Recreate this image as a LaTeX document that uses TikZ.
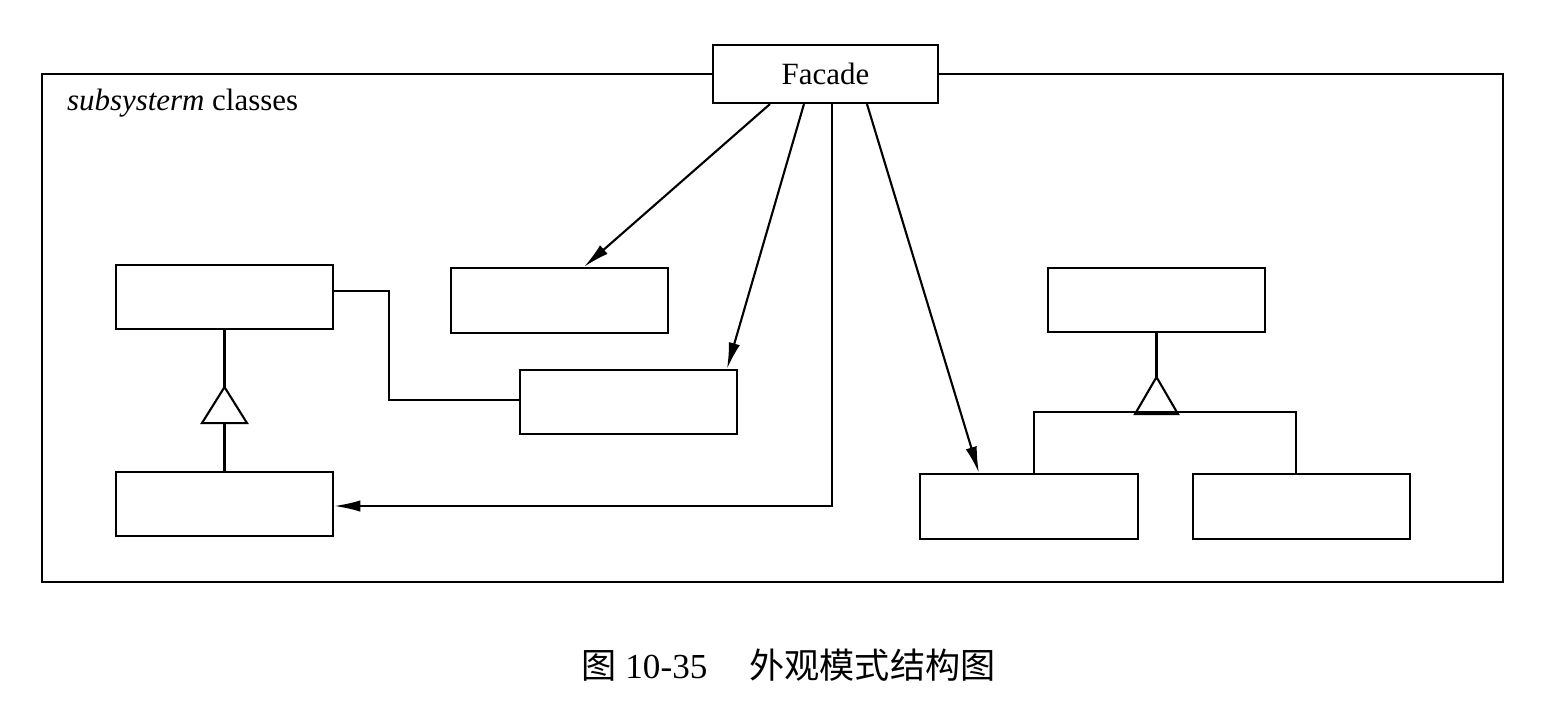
\documentclass[tikz,border=0pt]{standalone}
\usepackage{fontspec}
\setmainfont{Liberation Serif}
\newfontfamily\cjk{Noto Sans CJK SC}
\usetikzlibrary{arrows.meta,calc}
\begin{document}
\begin{tikzpicture}[x=0.02cm,y=-0.02cm,
  line width=1.2pt,
  cls/.style={draw,fill=white,minimum width=4.34cm,minimum height=1.28cm,inner sep=0pt},
  arr/.style={-{Latex[length=15pt,width=6.5pt]}},
  font=\fontsize{17.6}{20}\selectfont]
\useasboundingbox (0,0) rectangle (1568,711);
% frame
\draw (42,74) rectangle (1503,582);
\node[anchor=base west,inner sep=0pt] (lbl) at (66,110) {\textit{subsysterm} classes};
% facade
\node[draw,fill=white,minimum width=4.5cm,minimum height=1.16cm,inner sep=0pt] (fac) at (825.5,74) {Facade};
% classes
\node[cls] (A) at (224.5,297) {};
\node[cls,minimum height=1.3cm] (B) at (559.5,300.5) {};
\node[cls] (C) at (628.5,402) {};
\node[cls] (D) at (224.5,504) {};
\node[cls] (E) at (1156.5,300) {};
\node[cls,minimum width=4.36cm,minimum height=1.3cm] (F) at (1029,506.5) {};
\node[cls,minimum height=1.3cm] (G) at (1301.5,506.5) {};
% facade associations
\draw[arr] ($(fac.south west)+(58,0)$) -- ($(B.north west)+(134,0)$);
\draw[arr] ($(fac.south west)+(92,0)$) -- ($(C.north west)+(208,0)$);
\draw[arr] ($(fac.south west)+(120,0)$) |- ($(D.east)+(0,2)$);
\draw[arr] ($(fac.south west)+(155,0)$) -- ($(F.north west)+(60,0)$);
% A -- C
\draw ($(A.east)+(0,-6)$) -- ++(55,0) |- ($(C.west)+(0,-2)$);
% left inheritance
\draw (A.south) -- ++(0,57) coordinate (t1);
\draw (t1) -- ++(-22.5,36) -- ++(45,0) -- cycle;
\draw ($(t1)+(0,36)$) -- (D.north);
% right inheritance
\draw (E.south) -- ++(0,44) coordinate (t2);
\draw (t2) -- ++(-21.5,37) -- ++(43,0) -- cycle;
\draw ($(F.north west)+(115,0)$) |- ($(G.north west)+(104,-61)$) -- ($(G.north west)+(104,0)$);
% caption
\node[inner sep=0pt,font=\fontsize{20}{24}\selectfont] (cap) at (788.5,665) {{\cjk 图} 10-35\hspace{1.2em}{\cjk 外观模式结构图}};
\end{tikzpicture}
\end{document}
